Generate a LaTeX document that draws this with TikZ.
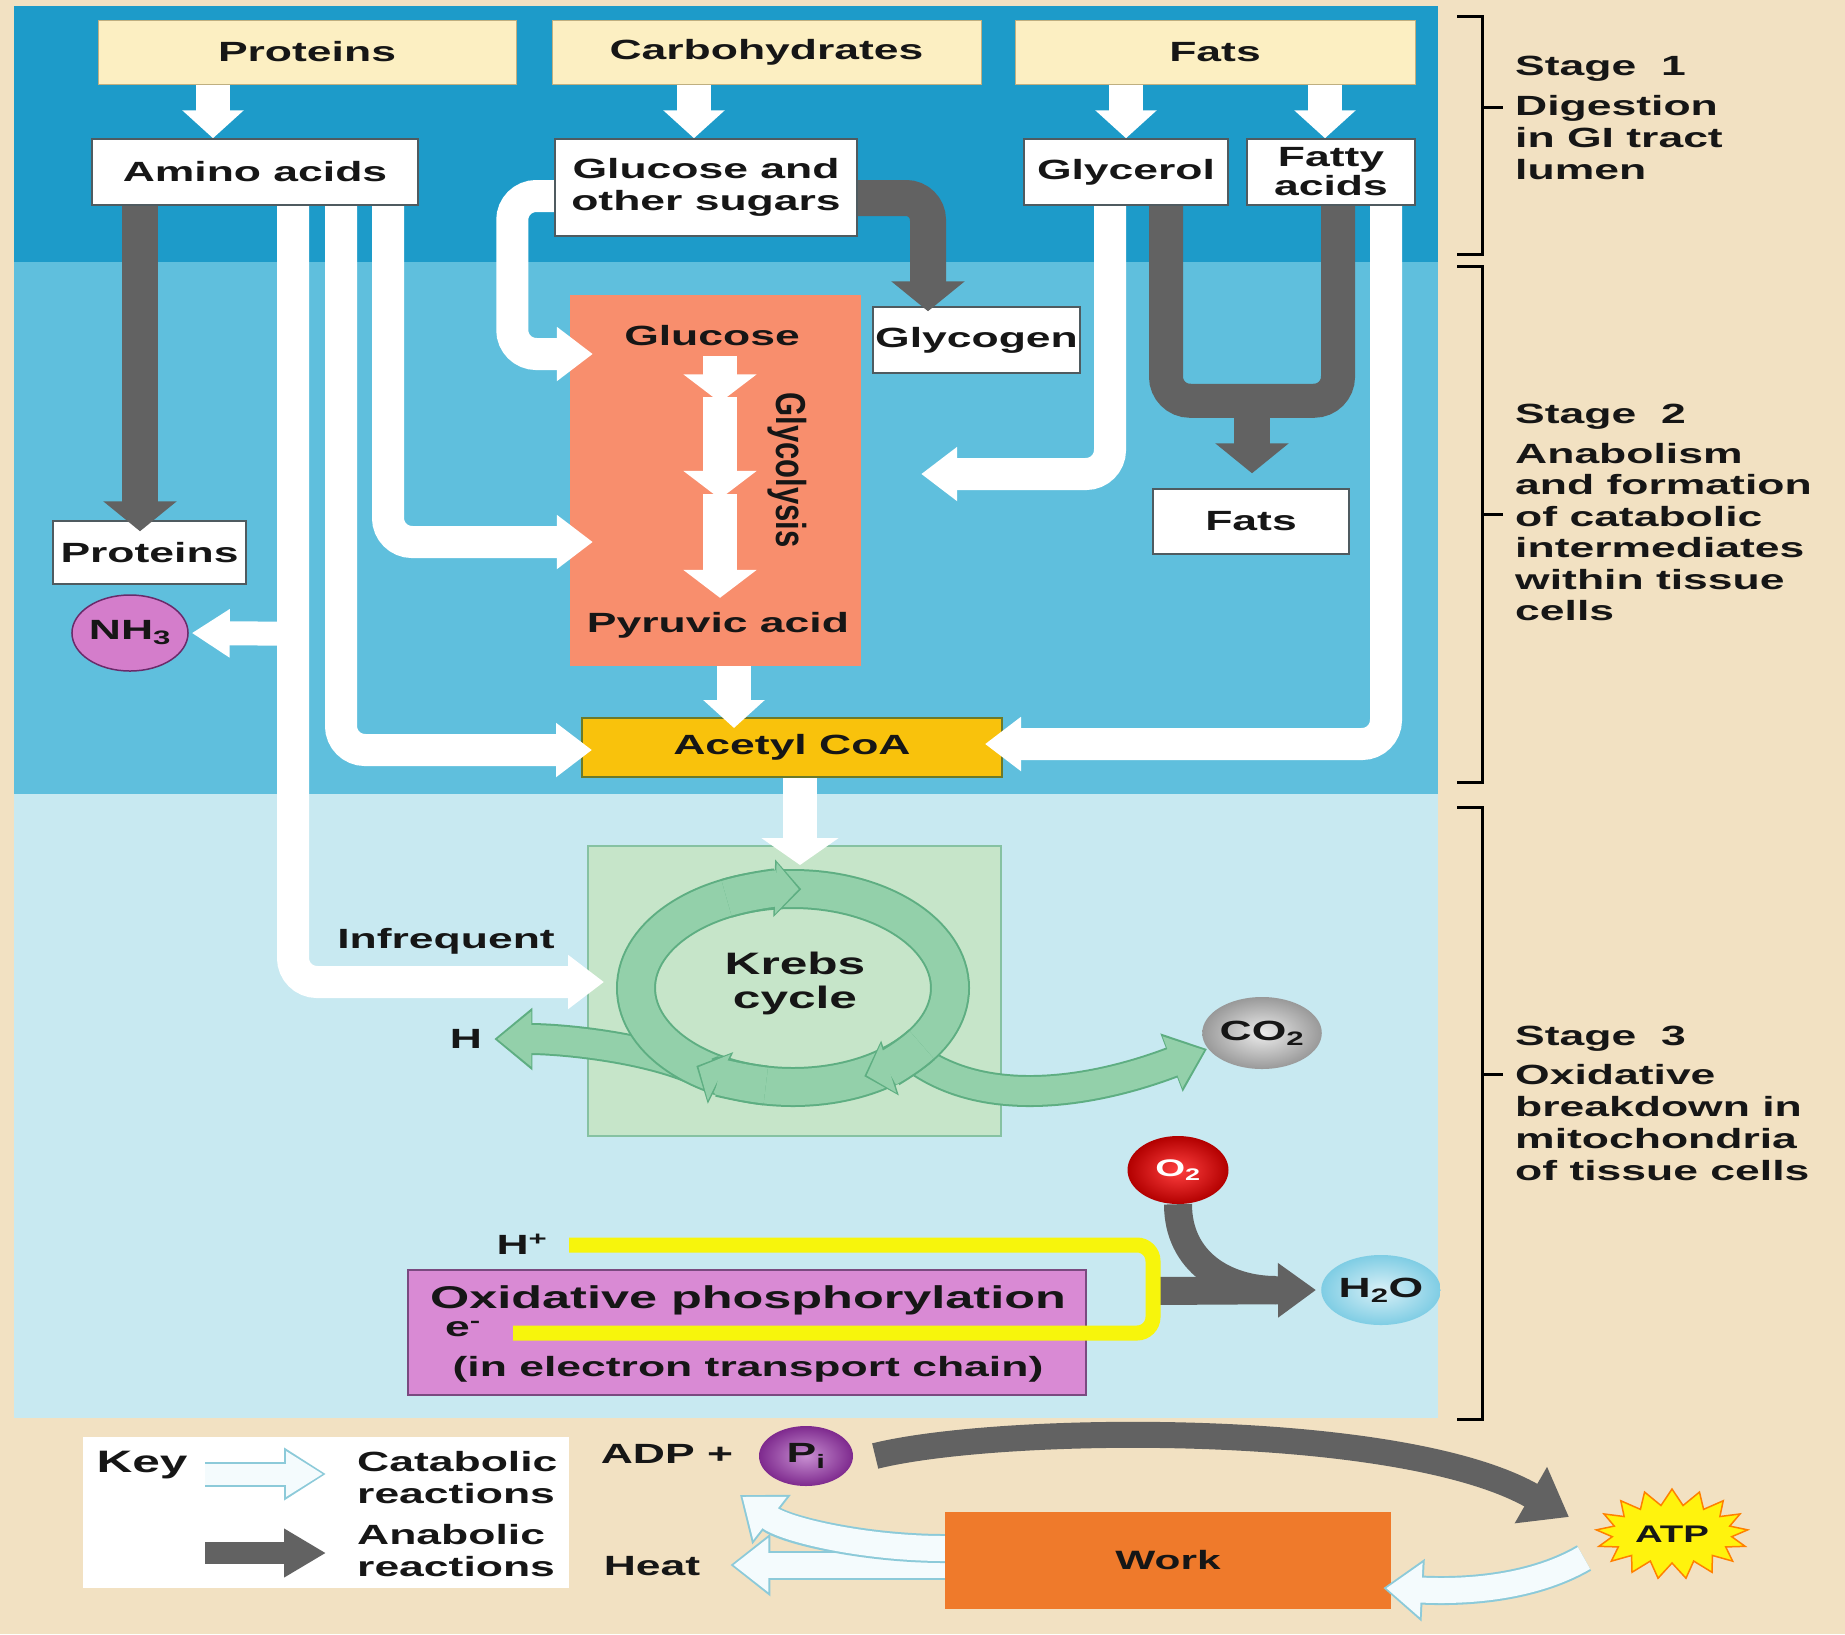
\documentclass[tikz,border=0pt]{standalone}
\usepackage{graphicx}
\usepackage{fontspec}
\newfontfamily\lbl{Liberation Sans}[FakeStretch=1.6]
\newfontfamily\lblr{Liberation Sans}
\usetikzlibrary{arrows.meta,shapes.symbols,shapes.geometric,calc}
\pgfdeclarelayer{bgl}
\pgfdeclarelayer{low}
\pgfdeclarelayer{topl}
\pgfsetlayers{bgl,low,main,topl}
\definecolor{tanbg}{HTML}{F2E1C2}
\definecolor{sone}{HTML}{1D9BC9}
\definecolor{stwo}{HTML}{5FBFDD}
\definecolor{sthree}{HTML}{C8E9F1}
\definecolor{topfill}{HTML}{FCEFC2}
\definecolor{topline}{HTML}{BFAF80}
\definecolor{boxline}{HTML}{4F5B60}
\definecolor{salmon}{HTML}{F88E6D}
\definecolor{acet}{HTML}{F9C20C}
\definecolor{acetline}{HTML}{6B7A2A}
\definecolor{kboxf}{HTML}{C6E5C9}
\definecolor{kboxl}{HTML}{86C2A2}
\definecolor{ringf}{HTML}{93D0AA}
\definecolor{ringd}{HTML}{5EAE82}
\definecolor{oxf}{HTML}{D98AD4}
\definecolor{oxl}{HTML}{7A4A80}
\definecolor{yel}{HTML}{F7F50C}
\definecolor{anag}{HTML}{626262}
\definecolor{workc}{HTML}{EF7A2B}
\definecolor{holl}{HTML}{8CCAD9}
\definecolor{holf}{HTML}{F4FBFD}
\definecolor{txt}{HTML}{161616}
\definecolor{nhf}{HTML}{D47DCB}
\definecolor{nhl}{HTML}{6A2A6A}
\definecolor{pic}{HTML}{A344B3}
\definecolor{picd}{HTML}{7E2A8E}
\definecolor{h2oc}{HTML}{7FCDE4}
\begin{document}
\begin{tikzpicture}[x=1pt,y=-1pt,
  every node/.style={font=\lbl\bfseries\fontsize{27.8}{32}\selectfont, text=txt, inner sep=0pt},
  topbox/.style={draw=topline, line width=1pt, fill=topfill},
  wbox/.style={draw=boxline, line width=1.5pt, fill=white, align=center},
  cat/.style={draw=white, line width=32pt, rounded corners=24pt, -{Triangle[width=52pt,length=36pt]}},
  catsm/.style={draw=white, line width=24pt, -{Triangle[width=46pt,length=38pt]}},
  catdn/.style={draw=white, line width=34pt, -{Triangle[width=60pt,length=28pt]}},
  catdnw/.style={draw=white, line width=34pt, -{Triangle[width=76pt,length=27pt]}},
  gly/.style={draw=white, line width=34pt, -{Triangle[width=72pt,length=28pt]}},
  ana/.style={draw=anag, line width=36pt, rounded corners=22pt, -{Triangle[width=72pt,length=30pt]}},
  anaL/.style={draw=anag, line width=34pt, rounded corners=24pt},
  anaO/.style={draw=anag, line width=28pt, -{Triangle[width=52pt,length=38pt]}},
  anaA/.style={draw=anag, line width=26pt, -{Triangle[width=62pt,length=44pt]}},
  anaK/.style={draw=anag, line width=22pt, -{Triangle[width=46pt,length=42pt]}},
  ringhead/.style={preaction={draw=ringd, line width=40pt, -{Triangle[width=56pt,length=27pt]}, shorten >=0pt}, draw=ringf, line width=36pt, -{Triangle[width=50pt,length=23pt]}, shorten >=2.5pt},
  grn/.style={preaction={draw=ringd, line width=32pt, -{Triangle[width=60pt,length=38pt]}, shorten >=0pt}, draw=ringf, line width=28pt, -{Triangle[width=53pt,length=34pt]}, shorten >=3pt},
  hol/.style={preaction={draw=holl, line width=29pt, -{Triangle[width=60pt,length=40pt]}, shorten >=0pt}, draw=holf, line width=25pt, -{Triangle[width=52pt,length=35pt]}, shorten >=3pt},
  holk/.style={preaction={draw=holl, line width=25pt, -{Triangle[width=50pt,length=42pt]}, shorten >=0pt}, draw=holf, line width=21pt, -{Triangle[width=43pt,length=37pt]}, shorten >=3pt},
  yloop/.style={draw=yel, line width=15pt, rounded corners=16pt},
  brk/.style={draw=black, line width=3pt},
  stg/.style={anchor=west, align=left, font=\lbl\bfseries\fontsize{27.8}{32}\selectfont}
]
\useasboundingbox (0,0) rectangle (1845,1634);
\begin{pgfonlayer}{bgl}
\fill[tanbg] (0,0) rectangle (1845,1634);
\fill[sone] (14,6) rectangle (1438,262);
\fill[stwo] (14,262) rectangle (1438,794);
\fill[sthree] (14,794) rectangle (1438,1418);
\end{pgfonlayer}

% target nodes (under the arrows)
\begin{pgfonlayer}{low}
\node[fill=salmon, minimum width=291pt, minimum height=371pt] (obox) at (715.5,480.5) {};
\node[wbox, minimum width=207pt, minimum height=66pt] (glycogen) at (976.5,340) {Glycogen};
\node[wbox, minimum width=196pt, minimum height=65pt] (fats2) at (1251,521.5) {Fats};
\node[wbox, minimum width=193pt, minimum height=63pt] (prot2) at (149.5,552.5) {Proteins};
\node[ellipse, fill=nhf, draw=nhl, line width=1.5pt, minimum width=110pt, minimum height=76pt] (nh3) at (130,633) {NH\textsubscript{3}};
\node[draw=acetline, line width=2pt, fill=acet, minimum width=420pt, minimum height=59pt] (acetyl) at (792,747.5) {Acetyl CoA};
\node[draw=kboxl, line width=2pt, fill=kboxf, minimum width=413pt, minimum height=290pt] (kbox) at (794.5,991) {};
\node[ellipse, inner color=white!85!gray, outer color=gray!80, minimum width=112pt, minimum height=72pt] (co2) at (1262,1033) {CO\textsubscript{2}};
\node[ellipse, inner color=red!75!white, outer color=red!70!black, minimum width=101pt, minimum height=68pt, text=white, font=\lbl\bfseries\fontsize{24}{28}\selectfont] (o2) at (1178,1170) {O\textsubscript{2}};
\node[ellipse, inner color=white!70!h2oc, outer color=h2oc, minimum width=106pt, minimum height=70pt] (h2o) at (1381,1290) {H\textsubscript{2}O};
\node[draw=oxl, line width=2pt, fill=oxf, minimum width=678pt, minimum height=125pt] (oxbox) at (747,1332.5) {};
\node[fill=white, minimum width=486pt, minimum height=151pt] (keybox) at (326,1512.5) {};
\node[fill=workc, minimum width=446pt, minimum height=97pt, font=\lbl\bfseries\fontsize{26.5}{30}\selectfont] (work) at (1168,1560.5) {Work};
\node[starburst, starburst points=17, starburst point height=16pt, random starburst=0, fill=yellow!95!white, draw=orange, line width=1.5pt, minimum width=152pt, minimum height=90pt, font=\lbl\bfseries\fontsize{24}{28}\selectfont] (atp) at (1672,1534) {ATP};
\end{pgfonlayer}

% source nodes and labels (above the arrows)
\begin{pgfonlayer}{topl}
\node[topbox, minimum width=418pt, minimum height=64pt] (prot) at (307,52) {Proteins};
\node[topbox, minimum width=429pt, minimum height=64pt] (carb) at (766.5,52) {Carbohydrates};
\node[topbox, minimum width=400pt, minimum height=64pt] (fats) at (1215,52) {Fats};
\node[wbox, minimum width=326pt, minimum height=66pt] (amino) at (255,172) {Amino acids};
\node[wbox, minimum width=302pt, minimum height=97pt] (sugar) at (706,187.5) {Glucose and\\other sugars};
\node[wbox, minimum width=204pt, minimum height=66pt] (glyc) at (1126,172) {Glycerol};
\node[wbox, minimum width=168pt, minimum height=66pt, font=\lbl\bfseries\fontsize{27.8}{29}\selectfont] (fatty) at (1331,172) {Fatty\\acids};
\node (glu) at (712,336) {Glucose};
\node (pyr) at (718,625) {Pyruvic acid};
\node[rotate=-90, font=\lblr\bfseries\fontsize{31}{34}\selectfont] (glylab) at (787,470) {\scalebox{1}[1.35]{Glycolysis}};
\node (infreq) at (446,941) {Infrequent};
\node[align=center, font=\lbl\bfseries\fontsize{31}{34}\selectfont] (krebs) at (795,983) {Krebs\\cycle};
\node (hlab) at (466,1039) {H};
\node (hplus) at (522,1244) {H\textsuperscript{+}};
\node[font=\lbl\bfseries\fontsize{31.5}{34}\selectfont] (oxt) at (748,1300) {Oxidative phosphorylation};
\node (elab) at (463,1329) {e\textsuperscript{-}};
\node (oxt2) at (748,1369) {(in electron transport chain)};
\node[font=\lbl\bfseries\fontsize{31}{34}\selectfont] (key) at (142,1465) {Key};
\node[anchor=west, align=left] (catl) at (357,1478) {Catabolic\\reactions};
\node[anchor=west, align=left] (anal) at (357,1551) {Anabolic\\reactions};
\node (adp) at (667,1454) {ADP +};
\node[ellipse, inner color=pic!60!white, outer color=picd, minimum width=94pt, minimum height=60pt] (pi) at (806,1456) {P\textsubscript{i}};
\node (heat) at (652,1566) {Heat};
\node[stg] (s1t) at (1515,69) {Stage~~1};
\node[stg] (s1b) at (1515,138) {Digestion\\in GI tract\\lumen};
\node[stg] (s2t) at (1515,417) {Stage~~2};
\node[stg, font=\lbl\bfseries\fontsize{27.8}{31.4}\selectfont] (s2b) at (1515,532) {Anabolism\\and formation\\of catabolic\\intermediates\\within tissue\\cells};
\node[stg] (s3t) at (1515,1039) {Stage~~3};
\node[stg] (s3b) at (1515,1123) {Oxidative\\breakdown in\\mitochondria\\of tissue cells};
\end{pgfonlayer}

% brackets
\draw[brk] (1457,16) -- (1482,16) -- (1482,254) -- (1457,254);
\draw[brk] (1482,107) -- (1503,107);
\draw[brk] (1457,266) -- (1482,266) -- (1482,782) -- (1457,782);
\draw[brk] (1482,514) -- (1503,514);
\draw[brk] (1457,807) -- (1482,807) -- (1482,1419) -- (1457,1419);
\draw[brk] (1482,1074) -- (1503,1074);

% stage 1 catabolic arrows
\draw[catdn] ($(amino.north)+(-42,-55)$) -- ($(amino.north)+(-42,0)$);
\draw[catdn] ($(sugar.north)+(-12,-55)$) -- ($(sugar.north)+(-12,0)$);
\draw[catdn] ($(glyc.north)+(0,-55)$) -- (glyc.north);
\draw[catdn] ($(fatty.north)+(-6,-55)$) -- ($(fatty.north)+(-6,0)$);

% anabolic arrows
\draw[ana] ($(amino.south)+(-115,0)$) -- ($(prot2.north)+(-9.5,11)$);
\draw[ana] ($(sugar.east)+(0,10.5)$) -| ($(glycogen.north)+(-48.5,5)$);
\draw[anaL] ($(glyc.south)+(40,0)$) |- ($(fatty.south)+(7,195)$) -- ($(fatty.south)+(7,0)$);
\draw[ana] ($(fats2.north)+(1,-89)$) -- ($(fats2.north)+(1,-15)$);

% catabolic lines from amino acids
\draw[cat] ($(amino.south)+(38,0)$) |- ($(kbox.west)+(17,-9)$);
\draw[catsm] ($(amino.south)+(38,428)$) -- ($(nh3.east)+(3,0)$);
\draw[cat] ($(amino.south)+(86,0)$) |- ($(acetyl.west)+(11,2.5)$);
\draw[cat] ($(amino.south)+(133,0)$) |- ($(obox.west)+(23,61.5)$);
% glucose loop
\draw[cat] ($(sugar.west)+(0,8.5)$) -- ++(-42,0) |- ($(obox.west)+(23,-126.5)$);
% glycolysis
\coordinate (gA) at ($(glu.south)+(8,10)$);
\coordinate (gB) at ($(pyr.north)+(2,-14)$);
\draw[gly] (gA) -- ($(gA)!0.19!(gB)$);
\draw[gly] ($(gA)!0.17!(gB)$) -- ($(gA)!0.59!(gB)$);
\draw[gly] ($(gA)!0.57!(gB)$) -- (gB);
\draw[catdn] ($(obox.south)+(18.5,0)$) -- ($(acetyl.north)+(-58,11)$);
% glycerol and fatty acids
\draw[cat] ($(glyc.south)+(-16,0)$) |- ($(obox.east)+(60,-6.5)$);
\draw[cat] ($(fatty.south)+(55,0)$) |- ($(acetyl.east)+(-18,-3.5)$);

% Krebs cycle
\coordinate (kc) at (793,988);
\draw[catdnw] ($(acetyl.south)+(8,0)$) -- ($(kbox.north)+(5.5,20)$);
\draw[grn] ($(kc)+(-90,85)$) .. controls +(-50,-25) and +(70,0) .. ($(hlab.east)+(12,0)$);
\draw[grn] ($(kc)+(112,62)$) .. controls (980,1115) and (1100,1090) .. ($(co2.center)+(-55,16)$);
\draw[ringd, line width=40pt] (kc) ellipse[x radius=157, y radius=99];
\draw[ringf, line width=36pt] (kc) ellipse[x radius=157, y radius=99];
\draw[ringhead] (kc) ++(245:157 and 99) arc[start angle=245, end angle=273, x radius=157, y radius=99];
\draw[ringhead] (kc) ++(35:157 and 99) arc[start angle=35, end angle=63, x radius=157, y radius=99];
\draw[ringhead] (kc) ++(100:157 and 99) arc[start angle=100, end angle=128, x radius=157, y radius=99];

% oxidative phosphorylation
\coordinate (hp) at (569,1245);
\coordinate (em) at (513,1333);
\coordinate (yr) at (1153,1291);
\draw[anag, line width=28pt] (o2.south) .. controls +(0,58) and +(-50,0) .. ($(h2o.west)+(-45,0)$);
\draw[anaO] (yr) -- ($(h2o.west)+(-5,0)$);
\draw[yloop] (hp) -- (1153,1245) -- (1153,1333) -- (em);

% bottom energy section
\draw[anaA] ($(pi.east)+(22,0)$) .. controls (1000,1425) and (1400,1420) .. ($(atp.center)+(-103,-17)$);
\draw[hol] ($(atp.center)+(-88,24)$) .. controls +(-55,32) and +(75,4) .. ($(work.east)+(-8,27.5)$);
\draw[hol] ($(work.west)+(0,4.5)$) -- ($(heat.east)+(30,-1)$);
\draw[hol] ($(work.west)+(0,-12)$) .. controls +(-80,0) and +(45,35) .. ($(pi.center)+(-66,39)$);

% key
\coordinate (ka1) at (205,1474);
\coordinate (ka2) at (326,1474);
\coordinate (kb1) at (205,1553);
\coordinate (kb2) at (326,1553);
\draw[holk] (ka1) -- (ka2);
\draw[anaK] (kb1) -- (kb2);
\end{tikzpicture}
\end{document}
